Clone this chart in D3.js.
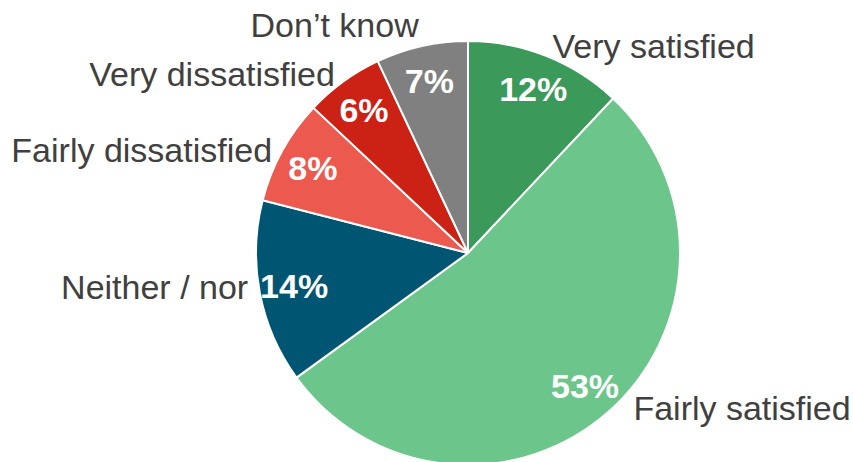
<!DOCTYPE html>
<html>
<head>
<meta charset="utf-8">
<script src="https://cdn.jsdelivr.net/npm/d3@7"></script>
<style>
  body { margin: 0; background: #fff; }
  text { font-family: "Liberation Sans", Arial, sans-serif; }
</style>
</head>
<body>
<svg id="chart"></svg>
<script>
// satisfaction survey shares, clockwise from 12 o'clock
const categories = ["Very satisfied", "Fairly satisfied", "Neither / nor", "Fairly dissatisfied", "Very dissatisfied", "Don\u2019t know"];
const shares = [12, 53, 14, 8, 6, 7];
const colours = ["#3b9a5a", "#6cc58a", "#005572", "#ec5a4f", "#cc2216", "#808080"];

// small nudges for the outside labels (excel style best-fit placement)
const labelNudge = [[-2, 11], [10, -22], [11, -10], [10, 10], [5, 11], [2, 1]];

const width = 853, height = 462;
const cx = 468, cy = 253, radius = 212;

const svg = d3.select("#chart")
    .attr("width", width)
    .attr("height", height);

const g = svg.append("g")
    .attr("transform", `translate(${cx}, ${cy})`);

const data = categories.map((c, i) => ({name: c, value: shares[i], i: i}));

const pie = d3.pie()
    .value(d => d.value)
    .sort(null);

const arcs = pie(data);

const arc = d3.arc().innerRadius(0).outerRadius(radius);
const pctArc = d3.arc().innerRadius(177).outerRadius(177);
const labelArc = d3.arc().innerRadius(235).outerRadius(235);

g.selectAll("path.slice")
    .data(arcs)
    .join("path")
    .attr("class", "slice")
    .attr("d", arc)
    .attr("fill", d => colours[d.data.i])
    .attr("stroke", "#fff")
    .attr("stroke-width", 2)
    .attr("stroke-linejoin", "round");

// percentages inside
g.selectAll("text.pct")
    .data(arcs)
    .join("text")
    .attr("class", "pct")
    .attr("x", d => pctArc.centroid(d)[0])
    .attr("y", d => pctArc.centroid(d)[1])
    .attr("dy", "0.36em")
    .attr("text-anchor", "middle")
    .attr("fill", "#fff")
    .style("font-weight", "bold")
    .style("font-size", "34px")
    .text(d => d.data.value + "%");

// category names outside
g.selectAll("text.cat")
    .data(arcs)
    .join("text")
    .attr("class", "cat")
    .attr("x", d => labelArc.centroid(d)[0] + labelNudge[d.data.i][0])
    .attr("y", d => labelArc.centroid(d)[1] + labelNudge[d.data.i][1])
    .attr("dy", "0.36em")
    .attr("text-anchor", d => labelArc.centroid(d)[0] < 0 ? "end" : "start")
    .attr("fill", "#404040")
    .style("font-size", "34px")
    .text(d => d.data.name);
</script>
</body>
</html>
